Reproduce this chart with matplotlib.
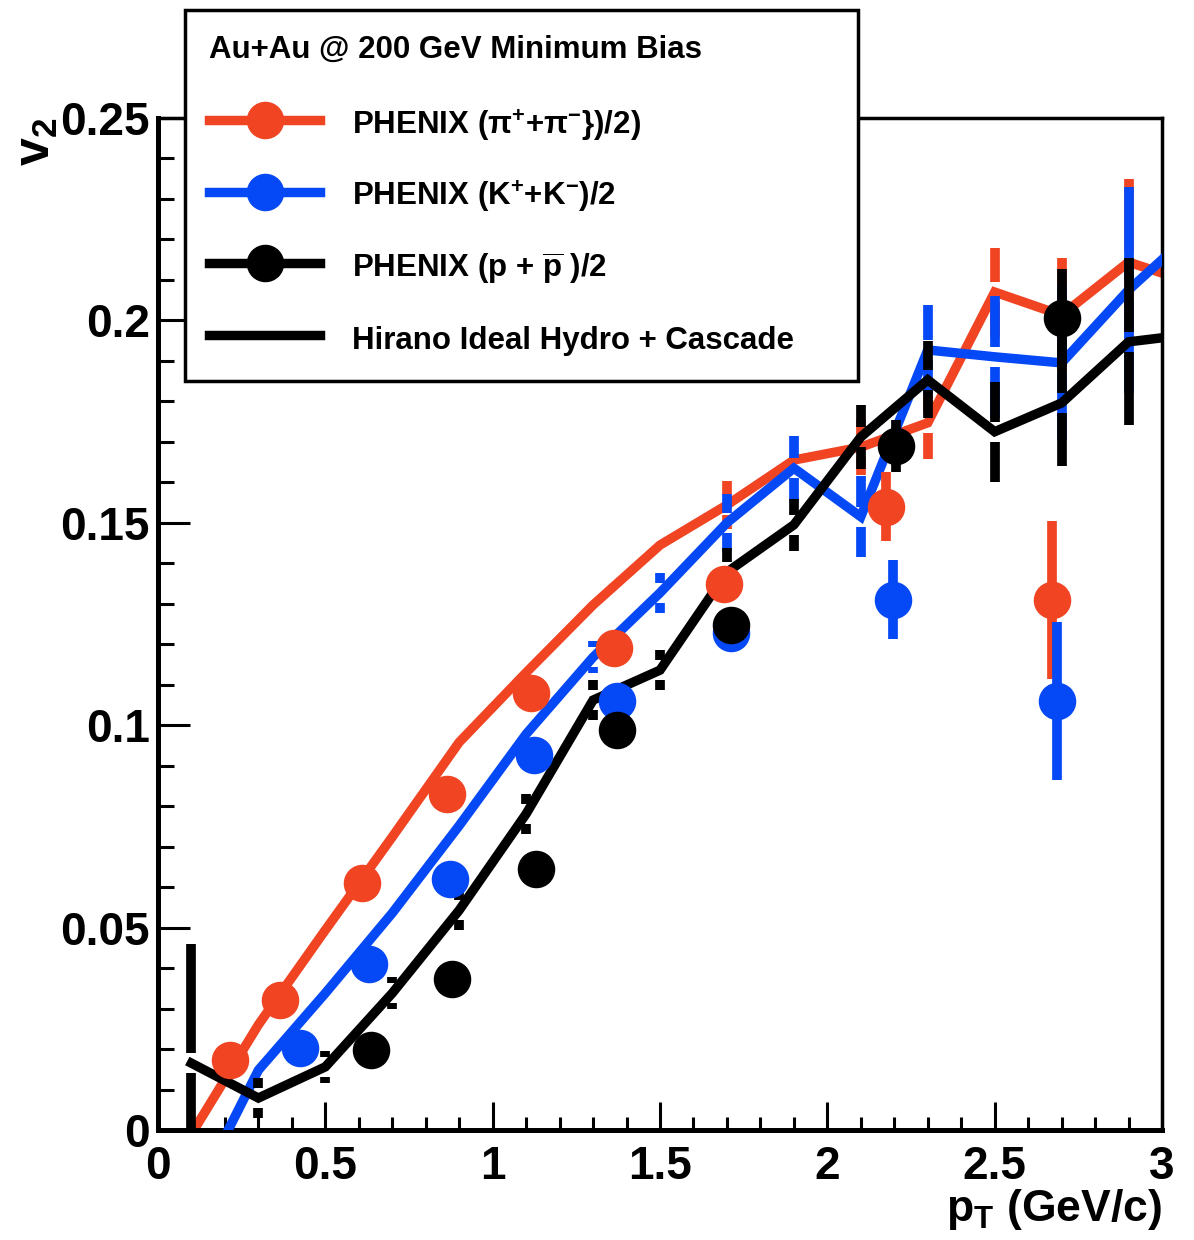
import matplotlib
matplotlib.use('Agg')
import matplotlib.pyplot as plt
from matplotlib.lines import Line2D
from matplotlib.ticker import FixedLocator, FixedFormatter, MultipleLocator
import numpy as np

plt.rcParams['font.family'] = ['Liberation Sans', 'DejaVu Sans']
plt.rcParams['font.weight'] = 'bold'
plt.rcParams['axes.labelweight'] = 'bold'
plt.rcParams['mathtext.fontset'] = 'custom'
plt.rcParams['mathtext.rm'] = 'Liberation Sans:bold'
plt.rcParams['mathtext.it'] = 'Liberation Sans:bold'
plt.rcParams['mathtext.bf'] = 'Liberation Sans:bold'

# ---------------- data ----------------
pion_pt = [0.215, 0.365, 0.61, 0.863, 1.115, 1.363, 1.69, 2.175, 2.67]
pion_v2 = [0.0173, 0.032, 0.061, 0.083, 0.108, 0.119, 0.135, 0.154, 0.131]
pion_err = [0.002, 0.002, 0.002, 0.002, 0.002, 0.002, 0.003, 0.0085, 0.0195]

kaon_pt = [0.424, 0.63, 0.873, 1.123, 1.372, 1.712, 2.196, 2.686]
kaon_v2 = [0.0202, 0.041, 0.062, 0.0926, 0.106, 0.1228, 0.131, 0.106]
kaon_err = [0.003, 0.003, 0.003, 0.003, 0.003, 0.004, 0.0098, 0.0195]

proton_pt = [0.637, 0.879, 1.13, 1.372, 1.712, 2.205, 2.70]
proton_v2 = [0.0198, 0.0373, 0.0645, 0.0988, 0.1248, 0.169, 0.2006]
proton_err = [0.003, 0.003, 0.003, 0.003, 0.004, 0.0065, 0.012]

hydro_pt = [0.1, 0.3, 0.5, 0.7, 0.9, 1.1, 1.3, 1.5, 1.7, 1.9, 2.1, 2.3, 2.5, 2.7, 2.9, 3.1]
hydro_pion = [-0.001, 0.026, 0.0494, 0.0724, 0.0958, 0.113, 0.1297, 0.1445, 0.1544,
              0.1655, 0.1687, 0.1747, 0.207, 0.2013, 0.2144, 0.209]
hydro_pion_err = [0.002, 0.002, 0.002, 0.002, 0.002, 0.002, 0.002, 0.002, 0.006,
                  0.002, 0.007, 0.009, 0.011, 0.014, 0.0206, 0.02]
hydro_kaon = [-0.018, 0.0148, 0.0338, 0.0536, 0.0752, 0.0978, 0.1168, 0.1327, 0.150,
              0.1635, 0.1515, 0.1927, 0.191, 0.1895, 0.2075, 0.2225]
hydro_kaon_err = [0.002, 0.002, 0.002, 0.002, 0.002, 0.002, 0.004, 0.005, 0.007,
                  0.008, 0.010, 0.011, 0.015, 0.019, 0.0255, 0.025]
hydro_proton = [0.0165, 0.0079, 0.0156, 0.0338, 0.0543, 0.0781, 0.1062, 0.1136, 0.1378,
                0.1495, 0.1712, 0.1853, 0.1725, 0.1796, 0.1947, 0.1967]
hydro_proton_err = [0.0295, 0.005, 0.004, 0.004, 0.005, 0.005, 0.005, 0.005, 0.006,
                    0.0065, 0.008, 0.0095, 0.0124, 0.0155, 0.0206, 0.02]

x_ticks = [0, 0.5, 1, 1.5, 2, 2.5, 3]
x_ticklabels = ['0', '0.5', '1', '1.5', '2', '2.5', '3']
y_ticks = [0, 0.05, 0.1, 0.15, 0.2, 0.25]
y_ticklabels = ['0', '0.05', '0.1', '0.15', '0.2', '0.25']

legend_title = 'Au+Au @ 200 GeV Minimum Bias'
legend_labels = [r'PHENIX ($\mathregular{\pi^{+}}$+$\mathregular{\pi^{-}}$})/2)',
                 r'PHENIX (K$^{+}$+K$^{-}$)/2',
                 r'PHENIX (p + $\overline{\mathregular{p}}$ )/2',
                 'Hirano Ideal Hydro + Cascade']

RED = '#F04423'
BLUE = '#0548F5'
BLACK = '#000000'

# ---------------- figure ----------------
W, H = 1194, 1240
fig = plt.figure(figsize=(W / 100, H / 100), dpi=100)
ax = fig.add_axes([158 / W, 110 / H, 1004 / W, 1012 / H])

LW = 6.8
GAP = 0.0025


def hydro(pt, v, e, color, z):
    pt = np.asarray(pt); v = np.asarray(v); e = np.asarray(e)
    ax.plot(pt, v, color=color, lw=LW, zorder=z, solid_joinstyle='miter')
    m = e > GAP
    ax.vlines(pt[m], v[m] + GAP, v[m] + e[m], color=color, lw=7, zorder=z)
    ax.vlines(pt[m], v[m] - e[m], v[m] - GAP, color=color, lw=7, zorder=z)


hydro(hydro_pt, hydro_pion, hydro_pion_err, RED, 2)
hydro(hydro_pt, hydro_kaon, hydro_kaon_err, BLUE, 3)
hydro(hydro_pt, hydro_proton, hydro_proton_err, BLACK, 4)

for pt, v, e, c, z in [(pion_pt, pion_v2, pion_err, RED, 5),
                       (kaon_pt, kaon_v2, kaon_err, BLUE, 6),
                       (proton_pt, proton_v2, proton_err, BLACK, 7)]:
    ax.errorbar(pt, v, yerr=e, fmt='o', color=c, ms=26, elinewidth=7,
                capsize=0, zorder=z, mec=c)

ax.set_xlim(0, 3)
ax.set_ylim(0, 0.25)

ax.xaxis.set_major_locator(FixedLocator(x_ticks))
ax.xaxis.set_major_formatter(FixedFormatter(x_ticklabels))
ax.xaxis.set_minor_locator(MultipleLocator(0.1))
ax.yaxis.set_major_locator(FixedLocator(y_ticks))
ax.yaxis.set_major_formatter(FixedFormatter(y_ticklabels))
ax.yaxis.set_minor_locator(MultipleLocator(0.01))

ax.tick_params(axis='both', which='both', direction='in', top=False, right=False,
               labelsize=33, width=2.2)
ax.tick_params(axis='y', which='major', length=23, pad=6)
ax.tick_params(axis='y', which='minor', length=11.5)
ax.tick_params(axis='x', which='major', length=20, pad=11)
ax.tick_params(axis='x', which='minor', length=9.5)

for s in ['left', 'bottom']:
    ax.spines[s].set_linewidth(3.6)
for s in ['top', 'right']:
    ax.spines[s].set_linewidth(2.5)

ax.set_xlabel(r'p$_{\mathregular{T}}$ (GeV/c)', fontsize=32, loc='right')
ax.xaxis.set_label_coords(1.0, -0.056)
ax.set_ylabel(r'v$_{\mathregular{2}}$', fontsize=36, loc='top')
ax.yaxis.set_label_coords(-0.098, 1.0)

handles = [Line2D([], [], color=RED, lw=LW, marker='o', ms=26),
           Line2D([], [], color=BLUE, lw=LW, marker='o', ms=26),
           Line2D([], [], color=BLACK, lw=LW, marker='o', ms=26),
           Line2D([], [], color=BLACK, lw=LW)]

FS = 22.5
LSP = 1.08
leg = fig.legend(handles, legend_labels, title=legend_title,
                 loc='upper left',
                 bbox_to_anchor=(185 / W, 1 - 372 / H, 673 / W, 362 / H),
                 mode='expand', fontsize=FS, title_fontsize=FS,
                 frameon=True, fancybox=False, framealpha=1, edgecolor='black',
                 borderpad=0.78, handlelength=3.55, handleheight=1.4,
                 handletextpad=1.0, labelspacing=LSP, borderaxespad=0,
                 alignment='left')
leg.get_frame().set_linewidth(2.5)
leg.get_title().set_fontweight('bold')
# extra space between the legend title and the first entry
try:
    leg._legend_box.sep = LSP * FS + 5.5
except Exception:
    pass

fig.savefig('out.png', dpi=100)
